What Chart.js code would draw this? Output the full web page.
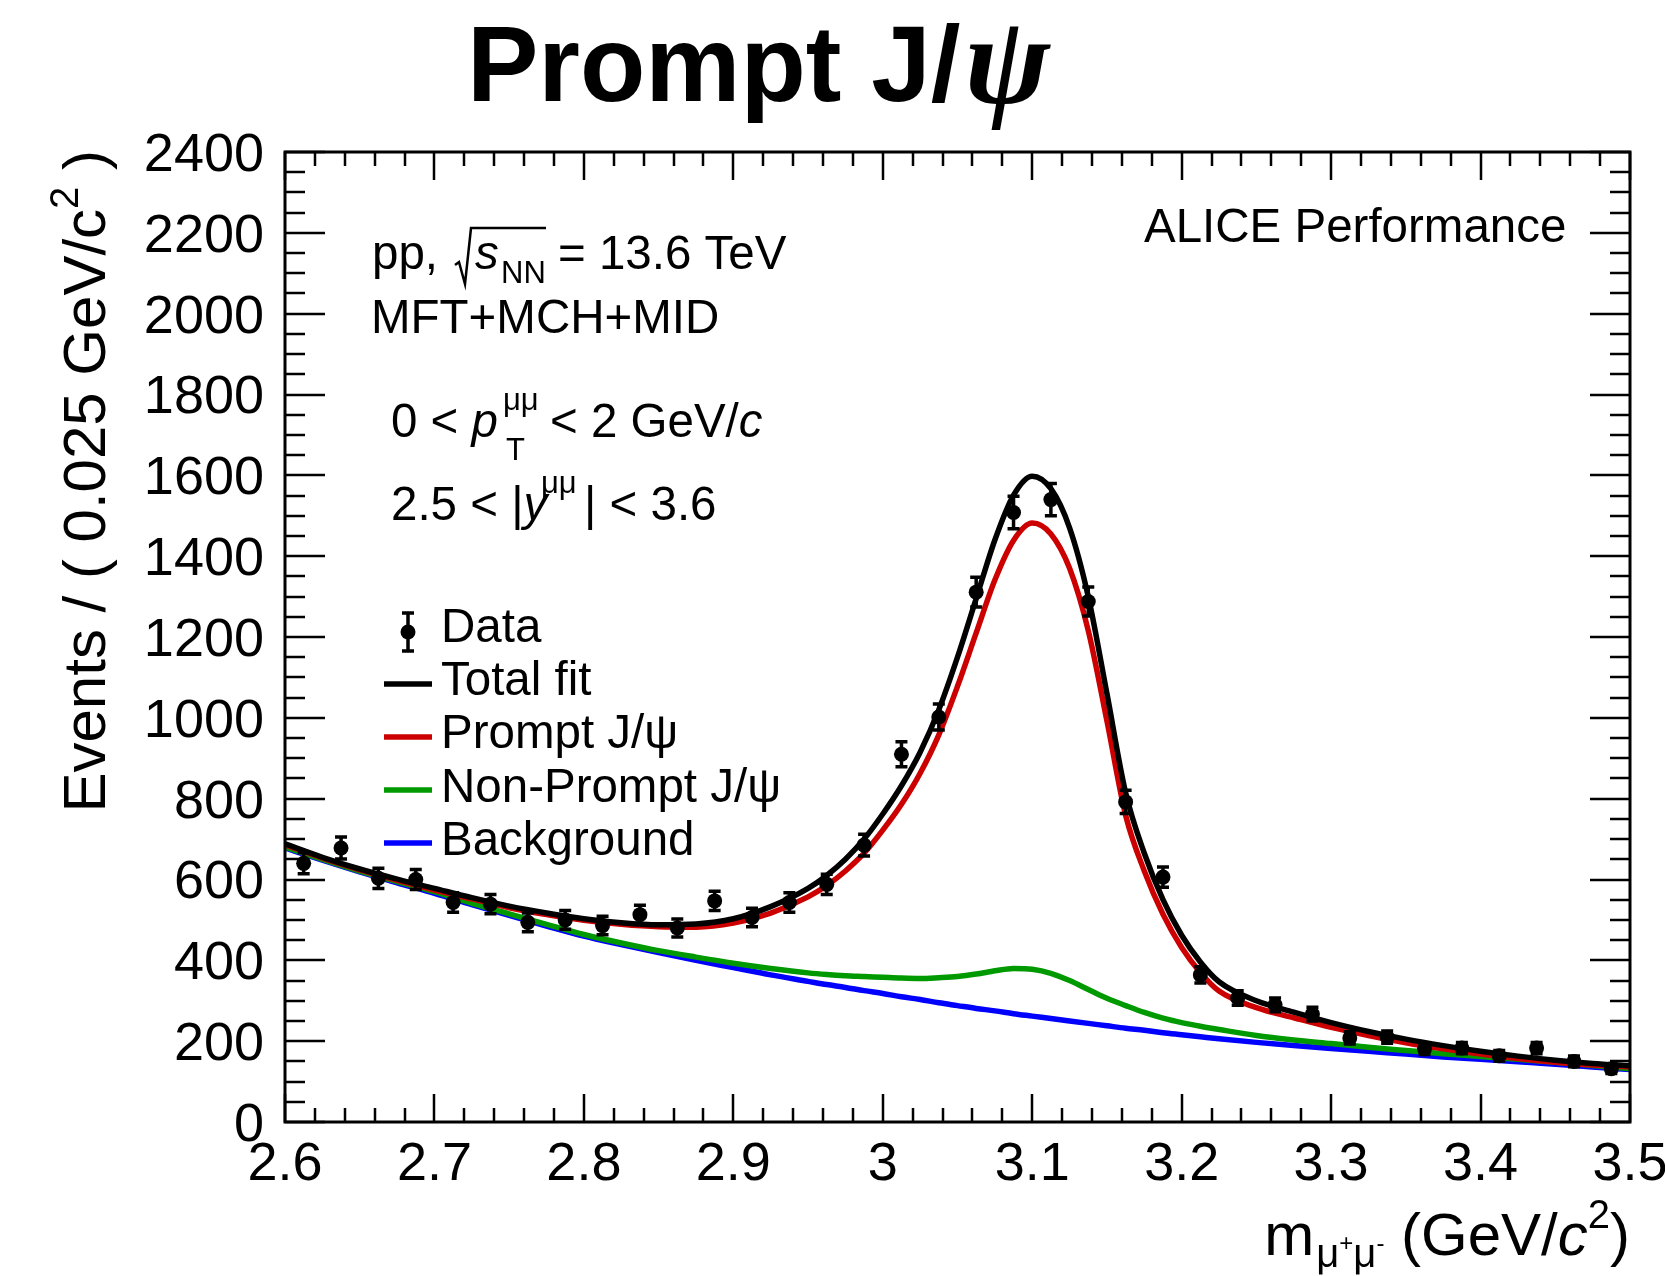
<!DOCTYPE html>
<html>
<head>
<meta charset="utf-8">
<script src="https://cdn.jsdelivr.net/npm/chart.js@4/dist/chart.umd.min.js"></script>
<style>
  html, body { margin: 0; padding: 0; background: #fff; }
  canvas { display: block; }
</style>
</head>
<body>
<canvas id="chart" width="1665" height="1276"></canvas>
<script>
// dimuon invariant mass, 0.025 GeV/c2 bins
const binCenters = [2.6125, 2.6375, 2.6625, 2.6875, 2.7125, 2.7375, 2.7625, 2.7875, 2.8125, 2.8375,
  2.8625, 2.8875, 2.9125, 2.9375, 2.9625, 2.9875, 3.0125, 3.0375, 3.0625, 3.0875,
  3.1125, 3.1375, 3.1625, 3.1875, 3.2125, 3.2375, 3.2625, 3.2875, 3.3125, 3.3375,
  3.3625, 3.3875, 3.4125, 3.4375, 3.4625, 3.4875];
const dataCounts = [640, 678, 603, 600, 543, 539, 494, 500, 486, 513,
  480, 547, 506, 543, 588, 685, 910, 1002, 1311, 1508,
  1540, 1288, 792, 606, 364, 307, 290, 267, 208, 210,
  181, 183, 164, 183, 150, 132];
const dataErrors = [26, 27, 25, 25, 24, 24, 23, 23, 23, 23,
  22, 24, 23, 24, 25, 27, 31, 32, 37, 40,
  40, 36, 29, 25, 20, 18, 17, 17, 15, 15,
  14, 14, 13, 14, 13, 12];

// fit curves
const curveMass = [2.6, 2.625, 2.65, 2.675, 2.7, 2.725, 2.75, 2.775, 2.8, 2.825, 2.85, 2.875, 2.9, 2.925, 2.95,
  2.9625, 2.975, 2.9875, 3.0, 3.0125, 3.025, 3.0375, 3.05, 3.0625, 3.075, 3.0875, 3.1, 3.1125, 3.125,
  3.1375, 3.15, 3.1625, 3.175, 3.1875, 3.2, 3.2125, 3.225,
  3.25, 3.275, 3.3, 3.325, 3.35, 3.375, 3.4, 3.425, 3.45, 3.475, 3.5];
const totalFit = [688, 655, 626, 601, 578, 555, 534, 517, 503, 493, 488, 490, 503, 533, 578,
  610, 650, 700, 762, 832, 915, 1020, 1150, 1295, 1440, 1551, 1598, 1567, 1470,
  1300, 1060, 815, 665, 550, 462, 396, 347,
  300, 272, 246, 224, 205, 189, 175, 163, 153, 145, 139];
const promptFit = [686, 653, 624, 598, 574, 552, 530, 513, 499, 489, 483, 482, 492, 517, 557,
  585, 621, 665, 722, 786, 863, 958, 1078, 1210, 1341, 1439, 1482, 1455, 1370,
  1216, 992, 759, 621, 514, 432, 370, 324,
  283, 258, 234, 214, 196, 181, 168, 157, 148, 141, 137];
const nonPromptFit = [680, 650, 621, 595, 570, 541, 515, 489, 464, 443, 424, 408, 393, 380, 369,
  365, 362, 360, 358, 356, 355, 357, 360, 366, 374, 380, 378, 368, 350,
  328, 306, 288, 271, 257, 246, 237, 229,
  214, 203, 194, 185, 177, 169, 162, 155, 148, 140, 132];
const backgroundFit = [678, 648, 619, 592, 566, 538, 511, 485, 460, 439, 419, 400, 382, 364, 348,
  340, 333, 325, 318, 310, 303, 295, 288, 281, 275, 268, 262, 256, 250,
  244, 238, 232, 227, 221, 216, 211, 206,
  197, 189, 182, 175, 168, 161, 155, 149, 143, 136, 130];

const xTickValues = [2.6, 2.7, 2.8, 2.9, 3.0, 3.1, 3.2, 3.3, 3.4, 3.5];
const xTickLabels = ['2.6', '2.7', '2.8', '2.9', '3', '3.1', '3.2', '3.3', '3.4', '3.5'];
const yTickValues = [0, 200, 400, 600, 800, 1000, 1200, 1400, 1600, 1800, 2000, 2200, 2400];
const yTickLabels = ['0', '200', '400', '600', '800', '1000', '1200', '1400', '1600', '1800', '2000', '2200', '2400'];

const seriesLabels = ['Data', 'Total fit', 'Prompt J/\u03c8', 'Non-Prompt J/\u03c8', 'Background'];
const seriesColors = ['#000000', '#000000', '#cc0000', '#009900', '#0000ff'];

const SANS = '"Liberation Sans", Arial, Helvetica, sans-serif';
const SERIF = '"Liberation Serif", "DejaVu Serif", serif';
const f = (size, style) => `${style || ''} ${size}px ${SANS}`.trim();
const TXT = 47.5;

function toPoints(xs, ys) {
  return xs.map((x, i) => ({ x: x, y: ys[i] }));
}

function curveDataset(i, values) {
  return {
    type: 'line',
    label: seriesLabels[i],
    data: toPoints(curveMass, values),
    borderColor: seriesColors[i],
    borderWidth: 5.5,
    pointRadius: 0,
    fill: false,
    showLine: true,
    cubicInterpolationMode: 'monotone',
  };
}

// draw a run of text pieces one after another, returns end x
function drawRuns(ctx, x, y, parts) {
  let cx = x;
  parts.forEach(([text, font, dy, dx]) => {
    ctx.font = font;
    cx += dx || 0;
    ctx.fillText(text, cx, y + (dy || 0));
    cx += ctx.measureText(text).width;
  });
  return cx;
}

function runsWidth(ctx, parts) {
  let w = 0;
  parts.forEach(([text, font, dy, dx]) => {
    ctx.font = font;
    w += ctx.measureText(text).width + (dx || 0);
  });
  return w;
}

const errorBarPlugin = {
  id: 'errorBars',
  afterDatasetsDraw(chart) {
    const { ctx, scales: { x, y } } = chart;
    ctx.save();
    ctx.strokeStyle = '#000';
    ctx.lineWidth = 3.5;
    binCenters.forEach((m, i) => {
      const px = x.getPixelForValue(m);
      const top = y.getPixelForValue(dataCounts[i] + dataErrors[i]);
      const bot = y.getPixelForValue(dataCounts[i] - dataErrors[i]);
      ctx.beginPath();
      ctx.moveTo(px, top); ctx.lineTo(px, bot);
      ctx.moveTo(px - 6, top); ctx.lineTo(px + 6, top);
      ctx.moveTo(px - 6, bot); ctx.lineTo(px + 6, bot);
      ctx.stroke();
    });
    ctx.restore();
  }
};

// ROOT style frame with inward ticks on all four sides
const framePlugin = {
  id: 'frame',
  afterDraw(chart) {
    const { ctx, chartArea: { left, right, top, bottom }, scales: { x, y } } = chart;
    ctx.save();
    ctx.strokeStyle = '#000';
    ctx.lineWidth = 2.5;
    ctx.beginPath();
    for (let v = 0; v <= 2400; v += 50) {
      const py = Math.round(y.getPixelForValue(v));
      const len = v % 200 === 0 ? 40 : 20;
      ctx.moveTo(left, py); ctx.lineTo(left + len, py);
      ctx.moveTo(right, py); ctx.lineTo(right - len, py);
    }
    for (let k = 0; k <= 45; k++) {
      const px = Math.round(x.getPixelForValue(2.6 + k * 0.02));
      const len = k % 5 === 0 ? 28 : 14;
      ctx.moveTo(px, bottom); ctx.lineTo(px, bottom - len);
      ctx.moveTo(px, top); ctx.lineTo(px, top + len);
    }
    ctx.stroke();
    ctx.lineWidth = 3;
    ctx.strokeRect(left, top, right - left, bottom - top);
    ctx.restore();
  }
};

const textPlugin = {
  id: 'texts',
  afterDraw(chart) {
    const ctx = chart.ctx;
    ctx.save();
    ctx.fillStyle = '#000';
    ctx.strokeStyle = '#000';
    ctx.textBaseline = 'alphabetic';
    ctx.textAlign = 'left';

    // title
    drawRuns(ctx, 467, 101, [
      ['Prompt J/', f(107, 'bold')],
      ['\u03c8', `italic bold 128px ${SERIF}`, 2, 4],
    ]);

    ctx.font = f(TXT);
    ctx.fillText('ALICE Performance', 1144, 242);

    // pp, sqrt(s_NN) = 13.6 TeV
    drawRuns(ctx, 372, 269, [['pp,', f(TXT)]]);
    ctx.lineWidth = 2.5;
    ctx.beginPath();
    ctx.moveTo(455, 265); ctx.lineTo(459, 262); ctx.lineTo(465, 284);
    ctx.lineTo(471, 228); ctx.lineTo(546, 228);
    ctx.stroke();
    drawRuns(ctx, 475, 269, [['s', f(TXT, 'italic')]]);
    drawRuns(ctx, 501, 283, [['NN', f(31)]]);
    drawRuns(ctx, 558, 269, [['= 13.6 TeV', f(TXT)]]);

    ctx.font = f(TXT);
    ctx.fillText('MFT+MCH+MID', 371, 333);

    // 0 < pT < 2 GeV/c
    drawRuns(ctx, 391, 437, [['0 < ', f(TXT)], ['p', f(TXT, 'italic')]]);
    drawRuns(ctx, 503, 410, [['\u03bc\u03bc', f(31)]]);
    drawRuns(ctx, 506, 460, [['T', f(31)]]);
    drawRuns(ctx, 550, 437, [['< 2 GeV/', f(TXT)], ['c', f(TXT, 'italic')]]);

    // 2.5 < |y| < 3.6
    drawRuns(ctx, 391, 520, [['2.5 < |', f(TXT)], ['y', f(TXT, 'italic')]]);
    drawRuns(ctx, 541, 493, [['\u03bc\u03bc', f(31)]]);
    drawRuns(ctx, 584, 520, [['| < 3.6', f(TXT)]]);

    // legend
    ctx.lineWidth = 3.5;
    ctx.beginPath();
    ctx.moveTo(408, 613); ctx.lineTo(408, 651);
    ctx.moveTo(402, 613); ctx.lineTo(414, 613);
    ctx.moveTo(402, 651); ctx.lineTo(414, 651);
    ctx.stroke();
    ctx.beginPath();
    ctx.arc(408, 632, 7.5, 0, Math.PI * 2);
    ctx.fill();
    const lineY = [684, 737, 790, 843];
    const textY = [642, 695, 748, 802, 855];
    ctx.lineWidth = 5.5;
    lineY.forEach((ly, i) => {
      ctx.strokeStyle = seriesColors[i + 1];
      ctx.beginPath();
      ctx.moveTo(384, ly); ctx.lineTo(432, ly);
      ctx.stroke();
    });
    ctx.font = f(TXT);
    seriesLabels.forEach((label, i) => ctx.fillText(label, 441, textY[i]));

    // y axis title, right aligned at top of frame
    const yParts = [
      ['Events / ( 0.025 GeV/c', f(60)],
      ['2', f(40), -27],
      [' )', f(60)],
    ];
    ctx.save();
    ctx.translate(105, 150);
    ctx.rotate(-Math.PI / 2);
    drawRuns(ctx, -runsWidth(ctx, yParts), 0, yParts);
    ctx.restore();

    // x axis title, right aligned
    const xParts = [
      ['m', f(60)],
      ['\u03bc', f(40), 12, 2],
      ['+', f(24), -4],
      ['\u03bc', f(40), 12],
      ['-', f(24), -4],
      [' (GeV/', f(60)],
      ['c', f(60, 'italic')],
      ['2', f(40), -27],
      [')', f(60)],
    ];
    drawRuns(ctx, 1630 - runsWidth(ctx, xParts), 1255, xParts);
    ctx.restore();
  }
};

new Chart(document.getElementById('chart'), {
  type: 'scatter',
  data: {
    datasets: [
      {
        label: seriesLabels[0],
        data: toPoints(binCenters, dataCounts),
        pointRadius: 7.5,
        pointBackgroundColor: '#000',
        pointBorderColor: '#000',
        pointBorderWidth: 0,
        showLine: false,
      },
      curveDataset(1, totalFit),
      curveDataset(2, promptFit),
      curveDataset(3, nonPromptFit),
      curveDataset(4, backgroundFit),
    ],
  },
  options: {
    responsive: false,
    animation: false,
    devicePixelRatio: 1,
    layout: { padding: { left: 0, top: 152, right: 35, bottom: 0 } },
    plugins: {
      legend: { display: false },
      tooltip: { enabled: false },
    },
    scales: {
      x: {
        type: 'linear',
        min: 2.6,
        max: 3.5,
        afterBuildTicks: (scale) => { scale.ticks = xTickValues.map((v) => ({ value: v })); },
        afterFit: (scale) => {
          scale.height = 154;
          scale.paddingLeft = 0;
          scale.paddingRight = 0;
        },
        grid: { display: false, drawTicks: false },
        border: { display: false },
        ticks: {
          autoSkip: false,
          maxRotation: 0,
          padding: 11,
          color: '#000',
          font: { family: SANS, size: 54 },
          callback: (value, index) => xTickLabels[index],
        },
      },
      y: {
        type: 'linear',
        min: 0,
        max: 2400,
        afterBuildTicks: (scale) => { scale.ticks = yTickValues.map((v) => ({ value: v })); },
        afterFit: (scale) => {
          scale.width = 285;
          scale.paddingTop = 0;
          scale.paddingBottom = 0;
        },
        grid: { display: false, drawTicks: false },
        border: { display: false },
        ticks: {
          autoSkip: false,
          padding: 21,
          labelOffset: 4,
          color: '#000',
          font: { family: SANS, size: 54 },
          callback: (value, index) => yTickLabels[index],
        },
      },
    },
  },
  plugins: [errorBarPlugin, framePlugin, textPlugin],
});
</script>
</body>
</html>
